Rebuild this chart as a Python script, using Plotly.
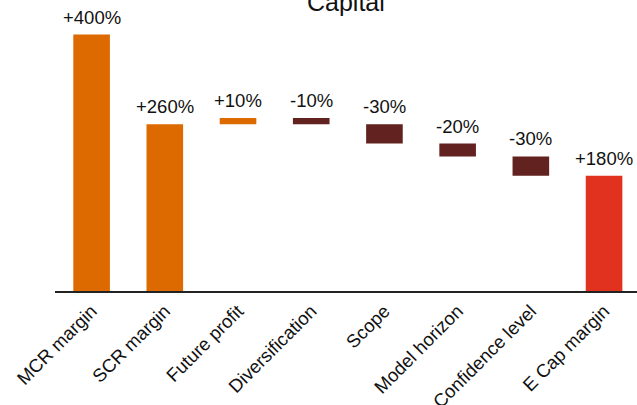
import plotly.graph_objects as go

# Capital waterfall: steps in percentage points
categories = ["MCR margin", "SCR margin", "Future profit", "Diversification",
              "Scope", "Model horizon", "Confidence level", "E Cap margin"]
changes = [400, 260, 10, -10, -30, -20, -30, 180]
# "absolute" bars start at zero, "relative" bars continue from the running level
measures = ["absolute", "absolute", "relative", "relative",
            "relative", "relative", "relative", "absolute"]
labels = ["+400%", "+260%", "+10%", "-10%", "-30%", "-20%", "-30%", "+180%"]

ORANGE = "#DD6A00"
DARK = "#622220"
RED = "#E0321E"
FONT = "Liberation Sans, Arial, sans-serif"

bases, heights, colors, tops = [], [], [], []
level = 0
for i, (v, m) in enumerate(zip(changes, measures)):
    if m == "absolute":
        base = 0
        level = v
        color = RED if i == len(changes) - 1 else ORANGE
    else:
        base = level
        level = level + v
        color = ORANGE if v > 0 else DARK
    bases.append(base)
    heights.append(v)
    colors.append(color)
    tops.append(max(base, base + v))

fig = go.Figure(
    go.Bar(
        x=categories,
        y=heights,
        base=bases,
        width=0.5,
        marker=dict(color=colors, line=dict(width=0)),
        hoverinfo="skip",
    )
)

for cat, top, txt in zip(categories, tops, labels):
    fig.add_annotation(
        x=cat, y=top, text=txt, showarrow=False,
        yanchor="bottom", yshift=5,
        font=dict(size=18.5, color="#111111", family=FONT),
    )

fig.add_annotation(
    xref="paper", yref="paper", x=0.5, y=1, yanchor="middle", yshift=-2,
    text="Capital", showarrow=False,
    font=dict(size=25, color="#111111", family=FONT),
)

fig.update_layout(
    width=637, height=405,
    margin=dict(l=55, r=0, t=0, b=114, autoexpand=False),
    paper_bgcolor="white", plot_bgcolor="white",
    showlegend=False,
    font=dict(family=FONT, size=18.5, color="#111111"),
    xaxis=dict(
        range=[-0.5, 7.45],
        tickangle=-45,
        automargin=False,
        tickfont=dict(size=18.5, color="#111111"),
        showline=True, linecolor="#222222", linewidth=2,
        showgrid=False, ticks="",
    ),
    yaxis=dict(
        range=[0, 454],
        automargin=False,
        visible=False, showgrid=False, zeroline=False,
    ),
)

fig.write_html("out.html")
